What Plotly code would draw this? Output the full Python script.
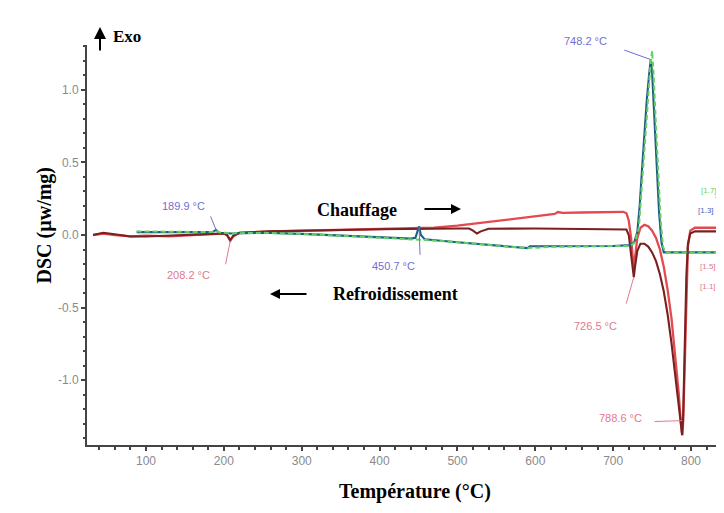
import plotly.graph_objects as go

# ---------------- data ----------------
red_T = [32, 45, 60, 80, 100, 130, 160, 190, 200, 204, 208.2, 212, 220, 260, 300, 350, 400, 450, 470, 500,
         530, 560, 590, 615, 625, 629, 635, 660, 700, 713, 717, 720, 723, 725, 726.5, 728, 731, 735, 740,
         745, 750, 755, 760, 765, 770, 775, 780, 784, 787, 788.6, 790, 792, 794, 796, 799, 805, 830, 848]
red_V = [0.0, 0.01, 0.0, -0.01, -0.005, -0.01, 0.0, 0.01, 0.01, 0.0, -0.04, -0.01, 0.015, 0.025, 0.03, 0.035,
         0.04, 0.045, 0.05, 0.065, 0.085, 0.105, 0.125, 0.14, 0.145, 0.158, 0.152, 0.155, 0.16, 0.16, 0.15,
         0.1, -0.02, -0.15, -0.24, -0.16, -0.02, 0.05, 0.07, 0.06, 0.03, -0.02, -0.1, -0.22, -0.38, -0.58,
         -0.84, -1.08, -1.3, -1.38, -1.28, -0.85, -0.35, -0.08, 0.03, 0.05, 0.05, 0.05]

maroon_T = [32, 45, 60, 80, 100, 130, 160, 190, 200, 204, 208.2, 212, 220, 260, 300, 400, 500, 515, 520, 525,
            530, 540, 600, 650, 700, 717, 720, 723, 726.5, 728, 731, 735, 740, 745, 750, 755, 760, 765, 770,
            775, 780, 784, 787, 788.6, 790, 792, 794, 796, 799, 805, 848]
maroon_V = [0.0, 0.015, 0.005, -0.01, -0.01, -0.005, 0.0, 0.01, 0.01, 0.0, -0.035, -0.005, 0.015, 0.025, 0.03,
            0.04, 0.045, 0.045, 0.03, 0.01, 0.025, 0.043, 0.045, 0.043, 0.04, 0.038, 0.0, -0.12, -0.29, -0.22,
            -0.11, -0.06, -0.06, -0.08, -0.12, -0.18, -0.27, -0.39, -0.55, -0.75, -0.98, -1.18, -1.33, -1.38,
            -1.22, -0.75, -0.28, -0.06, 0.01, 0.025, 0.025]

blue_T = [88, 120, 160, 185, 189.9, 194, 210, 250, 300, 350, 400, 440, 446, 450.7, 453, 458, 500, 550, 590,
          593, 620, 700, 722, 727, 731, 734, 737, 740, 743, 746, 748.2, 750, 753, 756, 759, 762, 765, 800,
          840, 845, 848]
blue_V = [0.02, 0.02, 0.02, 0.02, 0.035, 0.015, 0.01, 0.015, 0.008, -0.005, -0.015, -0.025, -0.02, 0.06, 0.0,
          -0.03, -0.05, -0.07, -0.09, -0.078, -0.078, -0.076, -0.07, -0.05, 0.02, 0.2, 0.45, 0.7, 0.92, 1.1,
          1.21, 1.12, 0.8, 0.45, 0.15, -0.05, -0.12, -0.12, -0.12, -0.11, -0.09]

green_T = [88, 120, 160, 185, 190, 194, 210, 250, 300, 350, 400, 440, 460, 500, 550, 590, 620, 700, 722, 728,
           733, 737, 741, 745, 748, 750, 752, 755, 758, 761, 764, 767, 800, 840, 845, 848]
green_V = [0.025, 0.022, 0.022, 0.02, 0.03, 0.018, 0.012, 0.015, 0.008, -0.005, -0.015, -0.025, -0.035, -0.05,
           -0.07, -0.09, -0.082, -0.08, -0.075, -0.05, 0.05, 0.35, 0.68, 0.98, 1.18, 1.27, 1.1, 0.75, 0.4, 0.1,
           -0.08, -0.12, -0.12, -0.12, -0.11, -0.09]

x_ticks = [100, 200, 300, 400, 500, 600, 700, 800]
y_ticks = [-1.0, -0.5, 0.0, 0.5, 1.0]
y_tick_text = ["-1.0", "-0.5", "0.0", "0.5", "1.0"]

# peak labels: (T, value, text, colour group)
peaks = [
    (748.2, 1.21, "748.2 °C", "blue"),
    (189.9, 0.035, "189.9 °C", "blue"),
    (208.2, -0.04, "208.2 °C", "red"),
    (450.7, 0.06, "450.7 °C", "blue"),
    (726.5, -0.29, "726.5 °C", "red"),
    (788.6, -1.28, "788.6 °C", "red"),
]
end_labels = ["[1.7]", "[1.3]", "[1.5]", "[1.1]"]

# ---------------- layout geometry ----------------
W, H = 724, 513
ML, MR, MT, MB = 79, 0, 37, 76
X_RANGE = [24.22, 852.6]
Y_RANGE = [-1.4483, 1.3103]
PW, PH = W - ML - MR, H - MT - MB


def xd(px):
    return X_RANGE[0] + (px - ML) / PW * (X_RANGE[1] - X_RANGE[0])


def yd(py):
    return Y_RANGE[1] - (py - MT) / PH * (Y_RANGE[1] - Y_RANGE[0])


def xp(px):
    return (px - ML) / PW


def yp(py):
    return (H - MB - py) / PH


RED = "#e24a4e"
MAROON = "#7a2020"
BLUE = "#1f5f82"
GREEN = "#5fd35f"
TXT_BLUE = "#6f6fcf"
TXT_RED = "#e07a8e"
LBL_FONT = "Liberation Sans Narrow, Arial Narrow, Liberation Sans, Arial"
SERIF = "Liberation Serif, Times New Roman, serif"

fig = go.Figure()
fig.add_trace(go.Scatter(x=red_T, y=red_V, mode="lines", line=dict(color=RED, width=2.3), showlegend=False))
fig.add_trace(go.Scatter(x=maroon_T, y=maroon_V, mode="lines", line=dict(color=MAROON, width=2.1), showlegend=False))
fig.add_trace(go.Scatter(x=blue_T, y=blue_V, mode="lines", line=dict(color=BLUE, width=2.1), showlegend=False))
fig.add_trace(go.Scatter(x=green_T, y=green_V, mode="lines",
                         line=dict(color=GREEN, width=2, dash="5px,3px"), showlegend=False))

ann = []
# pixel offsets (line tail, text centre) relative to each peak point
offsets = {
    "748.2 °C": ((-28, -10), (-65, -19)),
    "189.9 °C": ((-6, -15), (-33, -24)),
    "208.2 °C": ((-5, 25), (-42, 34)),
    "450.7 °C": ((1, 30), (-26, 40)),
    "726.5 °C": ((-8, 28), (-38, 49)),
    "788.6 °C": ((-29, 1), (-62, -3)),
}
for T, V, txt, grp in peaks:
    col = TXT_BLUE if grp == "blue" else TXT_RED
    (lx, ly), (tx, ty) = offsets[txt]
    ann.append(dict(x=T, y=V, xref="x", yref="y", text="", showarrow=True, arrowhead=0,
                    arrowwidth=1, arrowcolor=col, ax=lx, ay=ly, standoff=0))
    ann.append(dict(x=T, y=V, xref="x", yref="y", text=txt, showarrow=False, xshift=tx, yshift=-ty,
                    font=dict(family=LBL_FONT, size=11, color=col)))

# end labels at the right edge
end_pos = [(701, 182, GREEN, (707, 187), (721, 228)),
           (698, 202, "#4a5fc0", (708, 205), (720, 227)),
           (700, 258, TXT_RED, (711, 255), (722, 222)),
           (700, 278, TXT_RED, (711, 275), (723, 224))]
for lbl, (px, py, col, (tx0, ty0), (tx1, ty1)) in zip(end_labels, end_pos):
    ann.append(dict(x=xd(px), y=yd(py), xref="x", yref="y", text=lbl, showarrow=False,
                    font=dict(family=LBL_FONT, size=8, color=col)))
    ann.append(dict(x=xd(tx1), y=yd(ty1), xref="x", yref="y", text="", showarrow=True, arrowhead=0,
                    arrowwidth=0.8, arrowcolor=col, ax=tx0 - tx1, ay=ty0 - ty1, standoff=0))

# Exo arrow and label (outside the plot area -> paper coordinates)
ann.append(dict(x=xp(92), y=yp(19), xref="paper", yref="paper", text="", showarrow=True, arrowhead=2,
                arrowsize=1.2, arrowwidth=2, arrowcolor="black", ax=0, ay=25))
ann.append(dict(x=xp(103), y=yp(17), xref="paper", yref="paper", text="<b>Exo</b>", showarrow=False,
                xanchor="left", font=dict(family=SERIF, size=17, color="black")))

# Chauffage / Refroidissement
ann.append(dict(x=xd(349), y=yd(202), xref="x", yref="y", text="<b>Chauffage</b>", showarrow=False,
                font=dict(family=SERIF, size=18, color="black")))
ann.append(dict(x=xd(453), y=yd(201), xref="x", yref="y", text="", showarrow=True, arrowhead=2,
                arrowsize=1, arrowwidth=2, arrowcolor="black", ax=-38, ay=0))
ann.append(dict(x=xd(387), y=yd(286), xref="x", yref="y", text="<b>Refroidissement</b>", showarrow=False,
                font=dict(family=SERIF, size=18, color="black")))
ann.append(dict(x=xd(262), y=yd(286), xref="x", yref="y", text="", showarrow=True, arrowhead=2,
                arrowsize=1, arrowwidth=2, arrowcolor="black", ax=38, ay=0))

# axis titles
ann.append(dict(x=xp(23), y=yp(217), xref="paper", yref="paper",
                text="<b>DSC (µw/mg)</b>", textangle=-90, showarrow=False,
                font=dict(family=SERIF, size=20, color="black")))
ann.append(dict(x=xp(407), y=yp(497), xref="paper", yref="paper",
                text="<b>Température (°C)</b>", showarrow=False,
                font=dict(family=SERIF, size=20, color="black")))

fig.update_layout(
    width=W, height=H,
    margin=dict(l=ML, r=MR, t=MT, b=MB),
    plot_bgcolor="white", paper_bgcolor="white",
    annotations=ann,
    xaxis=dict(range=X_RANGE, tickvals=x_ticks, ticks="outside", ticklen=4, tickwidth=1.5,
               tickcolor="#444", showline=True, linecolor="#444", linewidth=2, showgrid=False,
               zeroline=False, tickfont=dict(family=LBL_FONT, size=12, color="#8a8a8a"),
               minor=dict(dtick=20, ticks="outside", ticklen=3, tickcolor="#444", showgrid=False)),
    yaxis=dict(range=Y_RANGE, tickvals=y_ticks, ticktext=y_tick_text, ticks="outside", ticklen=4,
               tickwidth=1.5, tickcolor="#444", showline=True, linecolor="#444", linewidth=2,
               showgrid=False, zeroline=False,
               tickfont=dict(family=LBL_FONT, size=12, color="#8a8a8a"),
               minor=dict(dtick=0.1, ticks="outside", ticklen=2, tickcolor="#444", showgrid=False)),
)

fig.write_html("out.html")
